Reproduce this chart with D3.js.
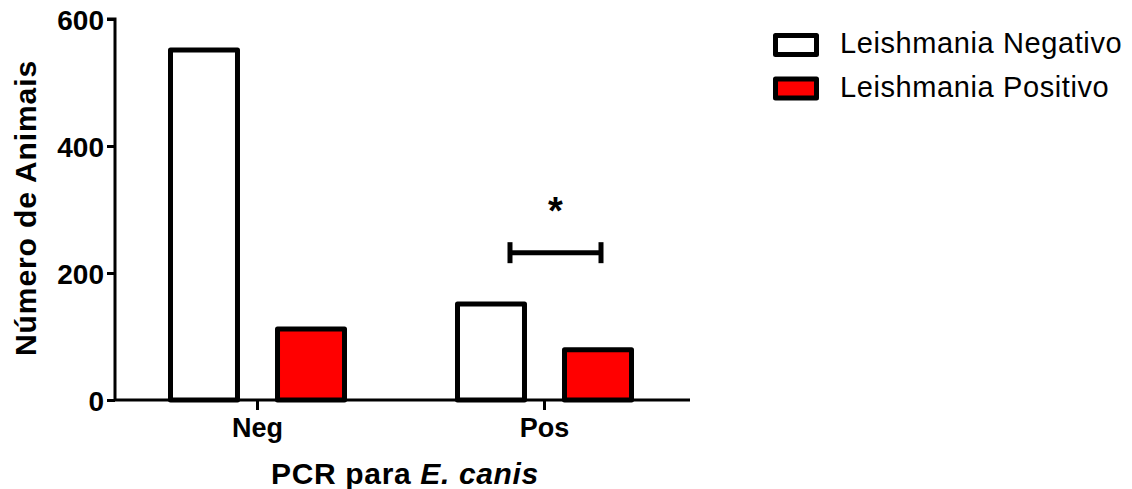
<!DOCTYPE html>
<html><head><meta charset="utf-8">
<script src="https://cdn.jsdelivr.net/npm/d3@7"></script>
<style>
body{margin:0;background:#fff;}
svg{display:block;font-family:"Liberation Sans",Arial,sans-serif;}
</style></head>
<body>
<svg id="chart" width="1132" height="489"></svg>
<script>
const categories = ["Neg", "Pos"];
const seriesNames = ["Leishmania Negativo", "Leishmania Positivo"];
const seriesColors = ["#ffffff", "#ff0000"];
const negValues = [551, 112];   // PCR Neg: Leishmania Negativo, Leishmania Positivo
const posValues = [151, 79];    // PCR Pos: Leishmania Negativo, Leishmania Positivo
const yTicks = [0, 200, 400, 600];
const sigLevel = 232;
const sigLabel = "*";

const svg = d3.select("#chart");
const x0 = d3.scaleBand().domain(categories).range([114, 688]).paddingOuter(0).paddingInner(0);
const x1 = d3.scaleBand().domain(seriesNames).range([-87, 87]).paddingInner(0.374).paddingOuter(0);
const y = d3.scaleLinear().domain([0, 600]).range([400, 19]);

const rows = [
  {cat: categories[0], vals: negValues},
  {cat: categories[1], vals: posValues}
];

const sw = 5;
const g = svg.append("g");
rows.forEach(r => {
  const cx = x0(r.cat) + x0.bandwidth() / 2;
  r.vals.forEach((v, j) => {
    g.append("rect")
      .attr("x", cx + x1(seriesNames[j]))
      .attr("y", y(v))
      .attr("width", x1.bandwidth())
      .attr("height", y(0) - y(v))
      .attr("fill", seriesColors[j])
      .attr("stroke", "#000")
      .attr("stroke-width", sw)
      .attr("stroke-linejoin", "round");
  });
});

// Axes
const yAxis = svg.append("g").attr("transform", "translate(115,0)")
  .call(d3.axisLeft(y).tickValues(yTicks).tickSize(8).tickPadding(3).tickFormat(d3.format("d")));
yAxis.select(".domain").attr("stroke-width", 3).attr("d", `M-8,${y(600)}H0V${y(0)}`);
yAxis.selectAll(".tick line").attr("stroke-width", 3);
yAxis.selectAll(".tick text").attr("font-size", 28).attr("font-weight", "bold").attr("fill", "#000").attr("dy", "0.36em");

const xAxis = svg.append("g").attr("transform", `translate(0,${y(0)})`)
  .call(d3.axisBottom(x0).tickSize(10).tickPadding(8));
xAxis.select(".domain").attr("stroke-width", 3).attr("d", `M115,0H690`);
xAxis.selectAll(".tick line").attr("stroke-width", 3);
xAxis.selectAll(".tick text").attr("font-size", 27).attr("font-weight", "bold").attr("fill", "#000").attr("dy", "0.71em");

// Axis titles
svg.append("text").attr("transform", `translate(36,208) rotate(-90)`)
  .attr("text-anchor", "middle").attr("font-size", 30).attr("font-weight", "bold")
  .attr("letter-spacing", 0.9).text("Número de Animais");
const xt = svg.append("text").attr("x", 405).attr("y", 484).attr("text-anchor", "middle")
  .attr("font-size", 30).attr("font-weight", "bold").attr("letter-spacing", 0.65);
xt.append("tspan").text("PCR para ");
xt.append("tspan").attr("font-style", "italic").text("E. canis");

// Significance bracket
const cxPos = x0("Pos") + x0.bandwidth() / 2;
const xa = cxPos + x1(seriesNames[0]) + x1.bandwidth() / 2 + 19;
const xb = cxPos + x1(seriesNames[1]) + x1.bandwidth() / 2 + 3;
const sy = y(sigLevel);
const sg = svg.append("g").attr("stroke", "#000").attr("stroke-width", 5);
sg.append("line").attr("x1", xa).attr("x2", xb).attr("y1", sy).attr("y2", sy);
sg.append("line").attr("x1", xa).attr("x2", xa).attr("y1", sy - 10.5).attr("y2", sy + 10.5);
sg.append("line").attr("x1", xb).attr("x2", xb).attr("y1", sy - 10.5).attr("y2", sy + 10.5);
svg.append("text").attr("x", (xa + xb) / 2).attr("y", 224).attr("text-anchor", "middle")
  .attr("font-size", 38).attr("font-weight", "bold").text(sigLabel);

// Legend
const lg = svg.append("g");
seriesNames.forEach((s, i) => {
  const ly = 35.5 + i * 43.5;
  lg.append("rect").attr("x", 775.5).attr("y", ly).attr("width", 41).attr("height", 19)
    .attr("fill", seriesColors[i]).attr("stroke", "#000").attr("stroke-width", 5).attr("stroke-linejoin", "round");
  lg.append("text").attr("x", 840).attr("y", 53 + i * 44).attr("font-size", 29)
    .attr("letter-spacing", 0.6).text(s);
});
</script>
</body></html>
